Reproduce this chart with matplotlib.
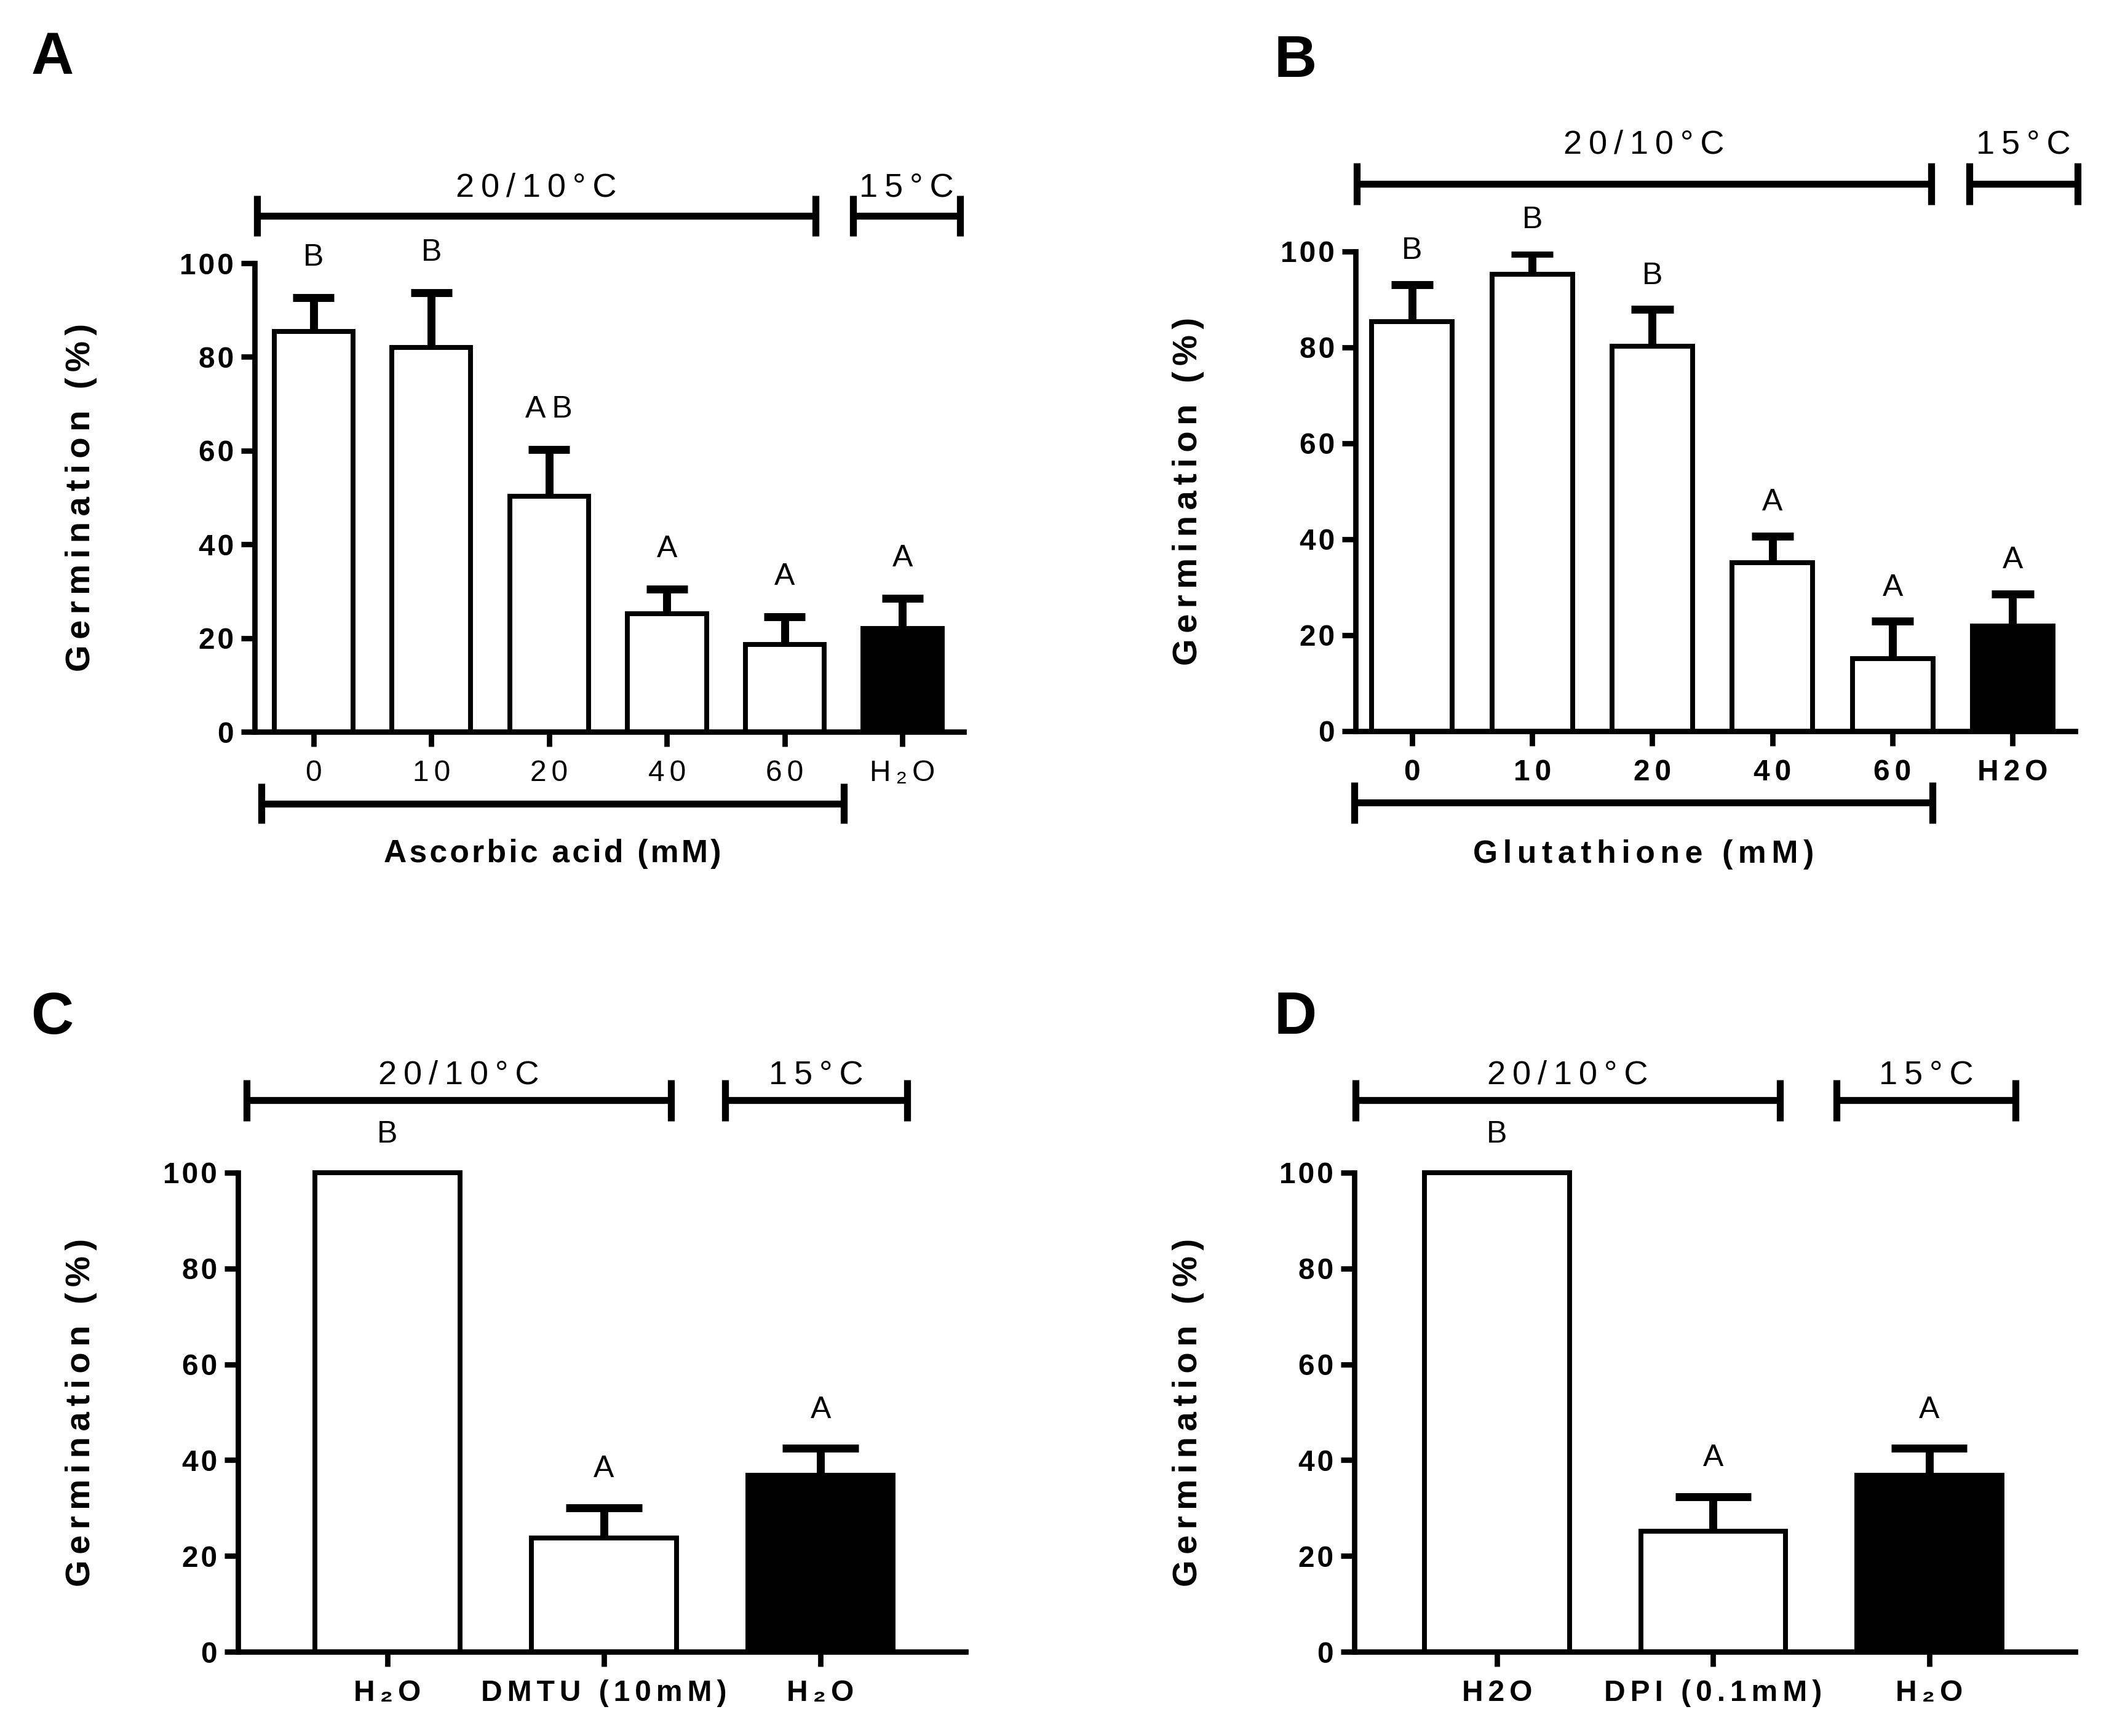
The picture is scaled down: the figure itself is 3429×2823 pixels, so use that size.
import numpy as np
import matplotlib.pyplot as plt

plt.rcParams['font.family'] = ['Liberation Sans Narrow', 'Liberation Sans', 'DejaVu Sans']

# ---- data ----
asc_labels = ["0", "10", "20", "40", "60", "H₂O"]
asc_mean = [85.4, 82.0, 50.3, 25.2, 18.6, 22.0]
asc_err = [7.3, 11.7, 10.0, 5.3, 6.0, 6.5]
asc_letters = ["B", "B", "AB", "A", "A", "A"]

glu_labels = ["0", "10", "20", "40", "60", "H2O"]
glu_mean = [85.4, 95.2, 80.2, 35.1, 15.1, 21.9]
glu_err = [7.7, 4.4, 7.7, 5.6, 7.8, 6.7]
glu_letters = ["B", "B", "B", "A", "A", "A"]

dmtu_labels = ["H₂O", "DMTU (10mM)", "H₂O"]
dmtu_mean = [100, 23.8, 36.9]
dmtu_err = [0, 6.3, 5.6]
dmtu_letters = ["B", "A", "A"]

dpi_labels = ["H2O", "DPI (0.1mM)", "H₂O"]
dpi_mean = [100, 25.1, 36.9]
dpi_err = [0, 7.3, 5.6]
dpi_letters = ["B", "A", "A"]

yticks = [0, 20, 40, 60, 80, 100]

THIN = "\u2009"
SIXTH = "\u2006"
HAIR = "\u200a"


def sp(s, gap=THIN):
    # wide letter spacing like the original
    return gap.join(s)


def bracket(ax, x0, x1, y, cap=4.3):
    ax.plot([x0, x1], [y, y], color="black", lw=2.7, clip_on=False,
            solid_capstyle="butt")
    for xc in (x0, x1):
        ax.plot([xc, xc], [y - cap, y + cap], color="black", lw=2.7,
                clip_on=False, solid_capstyle="butt")


def draw_panel(ax, labels, mean, err, letters, xlim, brackets, br_y, lab_dy,
               xtick_bold, letter_dy, bottom=None):
    n = len(mean)
    x = np.arange(n)
    colors = ["white"] * (n - 1) + ["black"]
    ax.bar(x, mean, width=0.67, color=colors, edgecolor="black", linewidth=1.9,
           zorder=3, clip_on=False)
    half = 0.175
    for xi, m, e in zip(x, mean, err):
        if e > 0:
            ax.vlines(xi, m, m + e, color="black", linewidth=3.1, zorder=2)
            ax.hlines(m + e, xi - half, xi + half, color="black", linewidth=3.1, zorder=2)
    for xi, m, e, t in zip(x, mean, err, letters):
        ax.text(xi, m + e + letter_dy, sp(t), ha="center", va="center",
                fontsize=12, clip_on=False)

    ax.set_xlim(*xlim)
    ax.set_ylim(0, 100)
    ax.set_yticks(yticks)
    ax.set_yticklabels([sp(str(v), HAIR) for v in yticks], fontsize=11.5,
                       fontweight="bold")
    ax.set_xticks(x)
    ax.set_xticklabels([sp(l, SIXTH) for l in labels], fontsize=11.5,
                       fontweight="bold" if xtick_bold else "normal")
    for s in ["top", "right"]:
        ax.spines[s].set_visible(False)
    for s in ["left", "bottom"]:
        ax.spines[s].set_linewidth(2.1)
    ax.tick_params(axis="y", length=5.2, width=2.1, pad=3)
    ax.tick_params(axis="x", length=5.8, width=2.1, pad=5)
    ax.set_ylabel(sp("Germination (%)", SIXTH), fontsize=13.5, fontweight="bold")

    for (x0, x1), txt in zip(brackets, ["20/10°C", "15°C"]):
        bracket(ax, x0, x1, br_y)
        ax.text((x0 + x1) / 2, br_y + lab_dy, sp(txt), ha="center", va="center",
                fontsize=13, clip_on=False)

    if bottom is not None:
        (x0, x1), by, txt, gap = bottom
        bracket(ax, x0, x1, by)
        ax.text((x0 + x1) / 2, by - 10.8, sp(txt, gap), ha="center", va="center",
                fontsize=12.4, fontweight="bold", clip_on=False)


W, H = 3429, 2823
fig = plt.figure(figsize=(W / 300, H / 300), dpi=300)


def px_axes(left, right, top, bottom):
    return fig.add_axes([left / W, 1 - bottom / H, (right - left) / W, (bottom - top) / H])


axA = px_axes(414, 1567, 428, 1190)
axB = px_axes(2204, 3374, 409, 1189)
axC = px_axes(387, 1570, 1907, 2686)
axD = px_axes(2202, 3374, 1907, 2686)

draw_panel(axA, asc_labels, asc_mean, asc_err, asc_letters, (-0.5, 5.52),
           [(-0.48, 4.26), (4.58, 5.49)], 110.1, 6.0, False, 8.5,
           bottom=((-0.44, 4.5), -15.3, "Ascorbic acid (mM)", HAIR))
draw_panel(axB, glu_labels, glu_mean, glu_err, glu_letters, (-0.47, 5.52),
           [(-0.46, 4.32), (4.64, 5.54)], 114.1, 8.2, True, 7.0,
           bottom=((-0.48, 4.33), -14.9, "Glutathione (mM)", SIXTH))
draw_panel(axC, dmtu_labels, dmtu_mean, dmtu_err, dmtu_letters, (-0.69, 2.67),
           [(-0.65, 1.31), (1.56, 2.40)], 115.1, 5.3, True, 8.0)
draw_panel(axD, dpi_labels, dpi_mean, dpi_err, dpi_letters, (-0.66, 2.675),
           [(-0.655, 1.31), (1.57, 2.40)], 115.1, 5.3, True, 8.0)

# y labels: same absolute x in each column
for ax, xr in ((axA, 158), (axB, 1958), (axC, 158), (axD, 1958)):
    pos = ax.get_position()
    ax.yaxis.set_label_coords((xr / W - pos.x0) / pos.width, 0.5)

for t, (xp, yp) in zip("ABCD", [(85, 95), (2106, 100), (85, 1656), (2106, 1656)]):
    fig.text(xp / W, 1 - yp / H, t, ha="center", va="center", fontsize=23,
             fontweight="bold", family=["Liberation Sans", "DejaVu Sans"])

fig.savefig("out.png", dpi=300, facecolor="white")
